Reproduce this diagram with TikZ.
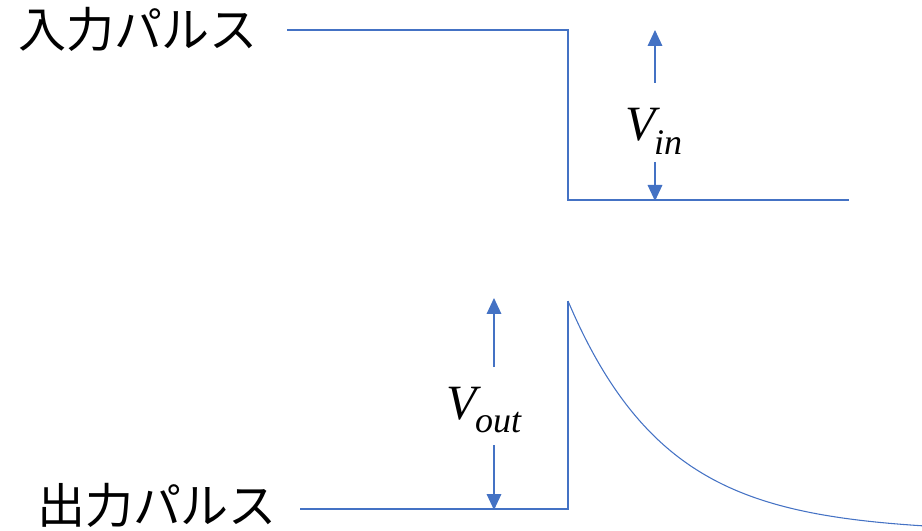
\documentclass[tikz,border=0pt]{standalone}
\usepackage{fontspec}
\newfontfamily\jpfont{Noto Sans CJK JP}
\newfontfamily\vfont{Liberation Serif}
\usetikzlibrary{arrows.meta}
\definecolor{pblue}{HTML}{4472C4}
\newcommand{\vsym}[1]{{\vfont\itshape V\kern-0.04em\raisebox{-0.28em}{\fontsize{27}{30}\selectfont #1}}}
\begin{document}
\begin{tikzpicture}[x=0.75pt,y=-0.75pt,
  wave/.style={draw=pblue,line width=0.8pt},
  dimarrow/.style={draw=pblue,line width=0.9pt,-{Triangle[width=11pt,length=12pt]}},
  jplabel/.style={inner sep=0pt,font=\jpfont\fontsize{36}{40}\selectfont},
  vlabel/.style={inner sep=0pt,font=\fontsize{37}{42}\selectfont}]
\useasboundingbox (0,0) rectangle (922,531);
% input pulse
\coordinate (i1) at (287,30);
\coordinate (i2) at (568,30);
\coordinate (i3) at (568,200);
\coordinate (i4) at (849,200);
\draw[wave] (i1) -- (i2) -- (i3) -- (i4);
\node[jplabel] (inlabel) at (138,29) {入力パルス};
\node[vlabel] (vin) at (654,131) {\vsym{in}};
\coordinate (vintop) at (655,30);
\coordinate (vinbot) at (655,201);
\draw[dimarrow] (655,83) -- (vintop);
\draw[dimarrow] (655,162) -- (vinbot);
% output pulse
\coordinate (o1) at (300,509);
\coordinate (o2) at (568,509);
\coordinate (o3) at (568,301);
\draw[wave] (o1) -- (o2) -- (o3);
\draw[wave] plot[domain=568:922,samples=120,smooth] (\x,{532-231*exp(-(\x-568)/98)});
\node[jplabel] (outlabel) at (157,505) {出力パルス};
\node[vlabel] (vout) at (484,410) {\vsym{out}};
\coordinate (vouttop) at (494,298);
\coordinate (voutbot) at (494,510);
\draw[dimarrow] (494,367) -- (vouttop);
\draw[dimarrow] (494,445) -- (voutbot);
\end{tikzpicture}
\end{document}
